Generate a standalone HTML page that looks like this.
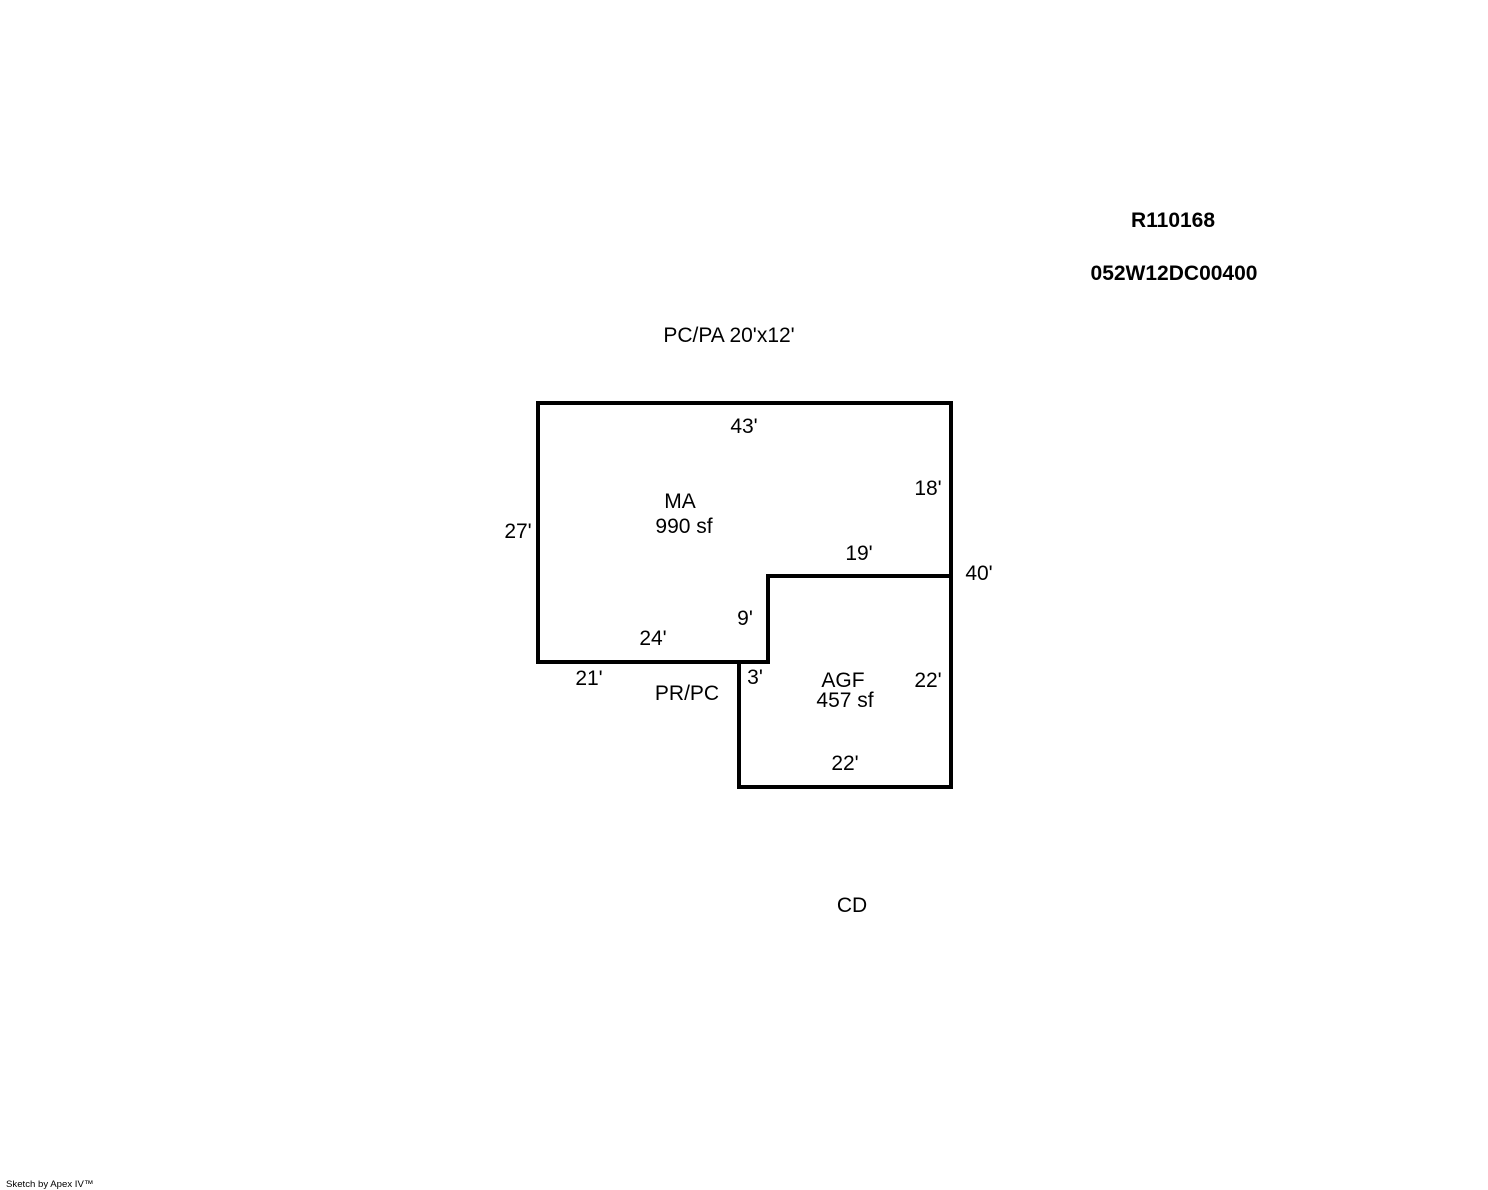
<!DOCTYPE html>
<html><head><style>
html,body{margin:0;padding:0;background:#fff;}
svg{display:block;}
text{font-family:"Liberation Sans",Arial,sans-serif;font-size:21px;fill:#000;}
</style></head><body>
<svg width="1488" height="1190" viewBox="0 0 1488 1190" xmlns="http://www.w3.org/2000/svg">
<g fill="none" stroke="#000" stroke-width="4" stroke-linejoin="miter" stroke-linecap="square">
<polygon points="538,403 951,403 951,787 739,787 739,662 538,662"/>
<polyline points="951,576 768,576 768,662 739,662"/>
</g>
<g text-anchor="middle">
<text x="1173" y="227" font-weight="bold">R110168</text>
<text x="1174" y="280" font-weight="bold">052W12DC00400</text>
<text x="729" y="342">PC/PA 20'x12'</text>
<text x="744" y="433">43'</text>
<text x="928" y="495">18'</text>
<text x="680" y="508">MA</text>
<text x="684" y="533">990 sf</text>
<text x="518" y="538">27'</text>
<text x="859" y="560">19'</text>
<text x="979" y="580">40'</text>
<text x="745" y="625">9'</text>
<text x="653" y="645">24'</text>
<text x="589" y="685">21'</text>
<text x="755" y="684">3'</text>
<text x="843" y="687">AGF</text>
<text x="928" y="687">22'</text>
<text x="687" y="700">PR/PC</text>
<text x="845" y="707">457 sf</text>
<text x="845" y="770">22'</text>
<text x="852" y="912">CD</text>
</g>
<text x="6" y="1187" style="font-size:9.6px">Sketch by Apex IV™</text>
</svg>
</body></html>
